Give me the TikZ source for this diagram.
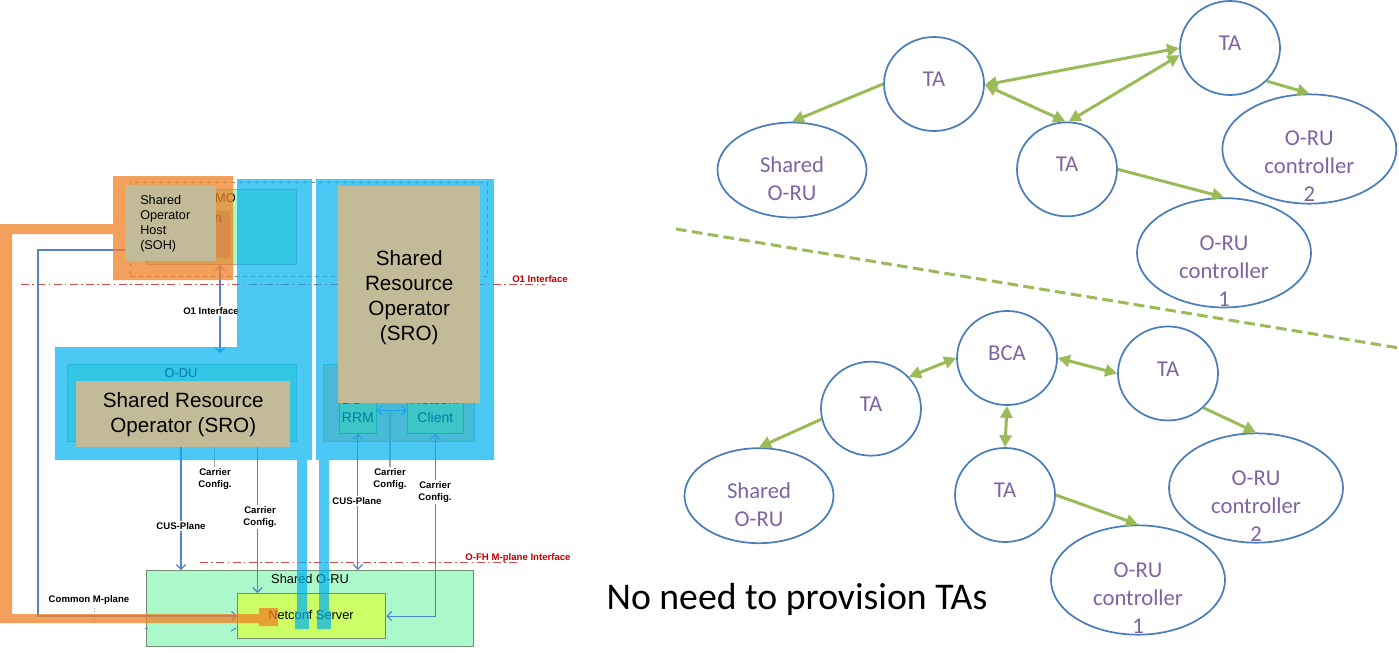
\documentclass[tikz,border=0pt]{standalone}
\usepackage{xcolor}
\usepackage{fontspec}
\setmainfont{Liberation Sans}
\newfontfamily\calibrifont{Carlito}
\usepackage{tikz}
\usetikzlibrary{shapes.geometric, arrows.meta, positioning, calc}
\definecolor{overlayblue}{RGB}{0,176,240}
\definecolor{overlayorange}{RGB}{239,128,37}
\definecolor{tanbox}{RGB}{195,187,152}
\definecolor{rugreen}{RGB}{171,248,202}
\definecolor{servergreen}{RGB}{204,255,102}
\definecolor{linkblue}{RGB}{84,130,205}
\definecolor{ifred}{RGB}{192,0,0}
\definecolor{ringblue}{RGB}{74,126,187}
\definecolor{tagreen}{RGB}{155,187,89}
\definecolor{tatext}{RGB}{128,100,162}

\begin{document}
\begin{tikzpicture}[
  x=0.75pt, y=-0.75pt,
  box/.style 2 args={rectangle, anchor=north west, inner sep=0pt, align=center,
             minimum width=#1*0.75pt, minimum height=#2*0.75pt},
  inbox/.style={draw=gray!90!green, line width=0.9pt},
  sro/.style={fill=tanbox, font=\fontsize{15.5}{18.75}\selectfont},
  small/.style={font=\fontsize{9.6}{13.5}\selectfont},
  lbl/.style={font=\bfseries\fontsize{7.2}{9}\selectfont, align=center, inner sep=1pt},
  lblw/.style={lbl, fill=white},
  link/.style={draw=linkblue, line width=0.9pt, {Straight Barb[length=3.5pt,width=7pt]}-{Straight Barb[length=3.5pt,width=7pt]}},
  linkr/.style={draw=linkblue, line width=0.9pt, -{Straight Barb[length=3.5pt,width=7pt]}},
  feed/.style={draw=gray!70, line width=0.8pt},
  ifline/.style={draw=ifred!70, line width=0.7pt, dash pattern=on 6pt off 2.5pt on 1.2pt off 2.5pt},
  tanode/.style={ellipse, draw=ringblue, line width=1.3pt, fill=white, inner sep=0pt,
             minimum width=75pt, minimum height=70.5pt, text=tatext, text depth=7pt,
             font=\calibrifont\fontsize{17}{21}\selectfont},
  sharednode/.style={tanode, minimum width=111.75pt, minimum height=71.25pt},
  ctrlnode/.style={tanode, minimum width=130.5pt, minimum height=82pt},
  inlbl/.style={text=tatext, align=center, font=\calibrifont\fontsize{17}{21}\selectfont},
  arr/.style={draw=tagreen, line width=2.25pt, -{Stealth[length=9pt,width=9pt,inset=0pt]}},
  arrb/.style={draw=tagreen, line width=2.25pt, {Stealth[length=9pt,width=9pt,inset=0pt]}-{Stealth[length=9pt,width=9pt,inset=0pt]}},
  on grid,
]
\useasboundingbox (0,0) rectangle (1399,653);

\coordinate (o1a) at (21,284);
\coordinate (o1b) at (545,284);
\coordinate (ofa) at (200,562);
\coordinate (ofb) at (518,562);
\draw[ifline] (o1a) -- (o1b);
\draw[ifline] (ofa) -- (ofb);

\node[box={327}{76}, inbox, fill=rugreen, anchor=north west] (oru) at (146,570) {};
\node[small] (orulbl) at (310,579) {Shared O-RU};
\node[box={148}{45}, inbox, fill=servergreen] (netconf) at (237,593) {};
\node[small] (netlbl) at (311,615) {Netconf Server};

\node[box={150}{75}, draw=gray!70, line width=0.75pt, fill=rugreen] (smo) at (146,189) {};
\node[small, anchor=east, inner sep=0pt] (smolbl) at (236,198) {SMO};
\node[box={84}{47}, fill={rgb,255:red,156;green,180;blue,172}] (ric) at (146,211) {};
\node[small, anchor=east, inner sep=0pt] (riclbl) at (222,219) {n};
\node[box={357}{94}, draw=gray, dashed, line width=0.9pt] (smodash) at (130,182) {};

\node[box={229}{77}, inbox, draw=teal!50, fill=rugreen] (odu) at (67,364) {};
\node[small] (odulbl) at (181,373) {O-DU};
\node[box={151}{77}, draw=teal!50, line width=0.75pt, fill={rgb,255:red,246;green,210;blue,150}] (odur) at (323,364) {};
\node[box={37}{50}, draw=green!50!gray, line width=0.5pt, fill=servergreen, font=\fontsize{10.5}{13.5}\selectfont] (rrm) at (339,383) {DU +\\RRM};
\node[box={56}{50}, draw=green!50!gray, line width=0.5pt, fill=servergreen, font=\fontsize{10.5}{13.5}\selectfont] (client) at (407,383) {Netconf\\Client};

\coordinate (o1top) at (220,265);
\coordinate (o1bot) at (220,353);
\coordinate (cus1) at (181,441);
\coordinate (cc1) at (257.5,441);
\coordinate (fd1a) at (214.5,441);
\coordinate (fd1b) at (214.5,467);
\coordinate (fd2a) at (390,411);
\coordinate (fd2b) at (390,467);
\coordinate (mstart) at (125,250);
\coordinate (mcorner) at (38,616);
\coordinate (dot1) at (94,608);
\coordinate (dot2) at (94,623);
\coordinate (tick1) at (231,631);
\coordinate (tick2) at (236,628);
\coordinate (tick3) at (145,628);
\coordinate (tick4) at (148,628);

\draw[link] (o1top) -- (o1bot);
\draw[link] (cus1) -- (cus1 |- oru.north);
\draw[linkr] (cc1) -- (cc1 |- netconf.north);
\draw[link] (rrm.south) -- (rrm.south |- oru.north);
\draw[link] (client.south) |- (netconf.east);
\draw[linkr] (mstart) -| (mcorner) -- (mcorner -| netconf.west);
\draw[link] ([yshift=-1.5pt]rrm.east) -- ([yshift=-1.5pt]client.west);
\draw[feed] (fd1b) -- (fd1a);
\draw[feed, -{Straight Barb[length=3pt,width=5pt]}] (fd2b) -- (fd2a);
\draw[draw=gray!80, dotted, line width=0.6pt] (dot1) -- (dot2);
\draw[draw=linkblue, line width=0.75pt] (tick1) -- (tick2);
\draw[draw=linkblue, line width=0.75pt] (tick3) -- (tick4);

\node[lblw] (o1lbl) at (211,311) {O1 Interface};
\node[lblw] (cuslbl1) at (181,526) {CUS-Plane};
\node[lblw] (cuslbl2) at (357,501) {CUS-Plane};
\node[lblw] (cclbl1) at (215,479) {Carrier\\Config.};
\node[lblw] (cclbl2) at (260,517) {Carrier\\Config.};
\node[lblw] (cclbl3) at (390,479) {Carrier\\Config.};
\node[lblw] (cclbl4) at (435,492) {Carrier\\Config.};
\node[lbl] (mlbl) at (89,600) {Common M-plane};
\node[lbl, text=ifred] (o1red) at (540,279) {O1 Interface};
\node[lbl, text=ifred] (ofred) at (518,558) {O-FH M-plane Interface};

\fill[overlayblue, fill opacity=0.7]
  (237,179) -- (312,179) -- (312,460) -- (307,460) -- (307,611) -- (309,611) -- (309,629)
  -- (295,629) -- (295,611) -- (297,611) -- (297,460) -- (55,460) -- (55,347) -- (237,347) -- cycle
  (316,179) -- (494,179) -- (494,460) -- (329,460) -- (329,611) -- (331,611) -- (331,629)
  -- (317,629) -- (317,611) -- (319,611) -- (319,460) -- (316,460) -- cycle;
\fill[overlayorange, fill opacity=0.75]
  (0,224) -- (113,224) -- (113,176) -- (233,176) -- (233,280) -- (113,280) -- (113,234)
  -- (12,234) -- (12,614) -- (259,614) -- (259,608) -- (278,608) -- (278,626) -- (259,626)
  -- (259,623) -- (0,623) -- cycle;

\node[box={91}{76}, fill=tanbox, align=left, text width=45.75pt, inner xsep=11.25pt,
      font=\fontsize{9.5}{11.25}\selectfont] (soh) at (125,185) {Shared\\Operator\\Host\\(SOH)};
\node[box={214}{66}, sro] (sro1) at (76,381) {Shared Resource\\Operator (SRO)};
\node[box={142}{217}, sro] (sro2) at (338,186) {\rule{0pt}{15pt}Shared\\Resource\\Operator\\(SRO)};

\node[tanode] (ta1) at (934,84) {TA};
\node[tanode, above right=27pt and 222pt of ta1] (ta2) {TA};
\node[tanode, below right=64pt and 99.75pt of ta1] (ta3) {TA};
\node[sharednode, below left=64.5pt and 106.5pt of ta1,
      label={[inlbl, yshift=-6.75pt]center:{Shared\\O-RU}}] (oru1) {};
\node[ctrlnode, below right=75.75pt and 59.5pt of ta2,
      label={[inlbl, yshift=-12.75pt]center:{O-RU\\controller\\2}}] (ctrl2) {};
\node[ctrlnode, below right=62.6pt and 117.75pt of ta3,
      label={[inlbl, yshift=-13.5pt]center:{O-RU\\controller\\1}}] (ctrl1) {};
\draw[arr] (ta1.west) -- (oru1.north);
\draw[arrb] (ta1.359) -- (ta2.180);
\draw[arrb] (ta1.359) -- (ta3.92);
\draw[arrb] (ta3.88) -- (ta2.188);
\draw[arr] (ta2.318) -- (ctrl2.north);
\draw[arr] (ta3.east) -- (ctrl1.north);

\coordinate (splita) at (676,229);
\coordinate (splitb) at (1399,348);
\draw[draw=tagreen, line width=2.25pt, dash pattern=on 8pt off 4pt] (splita) -- (splitb);

\node[tanode] (bca) at (1007,358) {BCA};
\node[tanode, below right=11.6pt and 120.75pt of bca] (tar) {TA};
\node[tanode, below left=38pt and 102pt of bca] (tal) {TA};
\node[tanode, below left=102.75pt and 1.5pt of bca] (tad) {TA};
\node[sharednode, below left=65.25pt and 84pt of tal,
      label={[inlbl, yshift=-6.75pt]center:{Shared\\O-RU}}] (oru2) {};
\node[ctrlnode, below right=85.9pt and 66pt of tar,
      label={[inlbl, yshift=-13.5pt]center:{O-RU\\controller\\2}}] (ctrl4) {};
\node[ctrlnode, below right=63.75pt and 99.75pt of tad,
      label={[inlbl, yshift=-13.5pt]center:{O-RU\\controller\\1}}] (ctrl3) {};
\draw[arrb] (tal.40) -- (bca.west);
\draw[arrb] (bca.east) -- (tar.west);
\draw[arrb] (bca.south) -- (tad.north);
\draw[arr] (tal.192) -- (oru2.north);
\draw[arr] (tar.316) -- (ctrl4.north);
\draw[arr] (tad.east) -- (ctrl3.north);

\node[font=\calibrifont\fontsize{28.3}{34}\selectfont] (noneed) at (797,599) {No need to provision TAs};
\end{tikzpicture}
\end{document}
